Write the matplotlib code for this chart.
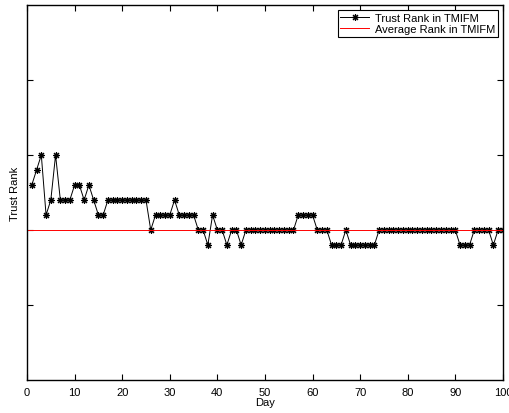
import numpy as np
import matplotlib
matplotlib.use("Agg")
import matplotlib.pyplot as plt

plt.rcParams['font.family'] = ['Liberation Sans', 'DejaVu Sans']

# Данные
days = np.arange(1, 101)
trust = [2.6, 2.8, 3.0, 2.2, 2.4, 3.0, 2.4, 2.4, 2.4, 2.6,
         2.6, 2.4, 2.6, 2.4, 2.2, 2.2, 2.4, 2.4, 2.4, 2.4,
         2.4, 2.4, 2.4, 2.4, 2.4, 2.0, 2.2, 2.2, 2.2, 2.2,
         2.4, 2.2, 2.2, 2.2, 2.2, 2.0, 2.0, 1.8, 2.2, 2.0,
         2.0, 1.8, 2.0, 2.0, 1.8, 2.0, 2.0, 2.0, 2.0, 2.0,
         2.0, 2.0, 2.0, 2.0, 2.0, 2.0, 2.2, 2.2, 2.2, 2.2,
         2.0, 2.0, 2.0, 1.8, 1.8, 1.8, 2.0, 1.8, 1.8, 1.8,
         1.8, 1.8, 1.8, 2.0, 2.0, 2.0, 2.0, 2.0, 2.0, 2.0,
         2.0, 2.0, 2.0, 2.0, 2.0, 2.0, 2.0, 2.0, 2.0, 2.0,
         1.8, 1.8, 1.8, 2.0, 2.0, 2.0, 2.0, 1.8, 2.0, 2.0]
avg_rank = 2.0

fig = plt.figure(figsize=(5.1, 4.14), dpi=100)
ax = fig.add_axes([0.053, 0.0797, 0.933, 0.9058])

ax.plot(days, trust, color='k', lw=0.7, marker=(8, 2, 0), ms=5, mew=0.8,
        label='Trust Rank in TMIFM')
ax.axhline(avg_rank, color='red', lw=0.7, label='Average Rank in TMIFM')

ax.set_xlim(0, 100)
ax.set_ylim(0, 5)
ax.set_xticks(np.arange(0, 101, 10))
ax.set_yticks([1, 2, 3, 4])
ax.set_yticklabels([])
ax.tick_params(direction='in', top=True, right=True, labelsize=8, length=4,
               width=0.8, pad=5)
for s in ax.spines.values():
    s.set_linewidth(1.0)

ax.set_xlabel("Day", fontsize=8, labelpad=0)
ax.set_ylabel("Trust Rank", fontsize=8, labelpad=0)

leg = ax.legend(loc='upper right', fontsize=8, fancybox=False, framealpha=1,
                edgecolor='k', borderaxespad=0.45, handlelength=2.6,
                borderpad=0.25, labelspacing=0.1, handletextpad=0.5)
leg.get_frame().set_linewidth(0.8)

fig.savefig("out.png", dpi=100)
